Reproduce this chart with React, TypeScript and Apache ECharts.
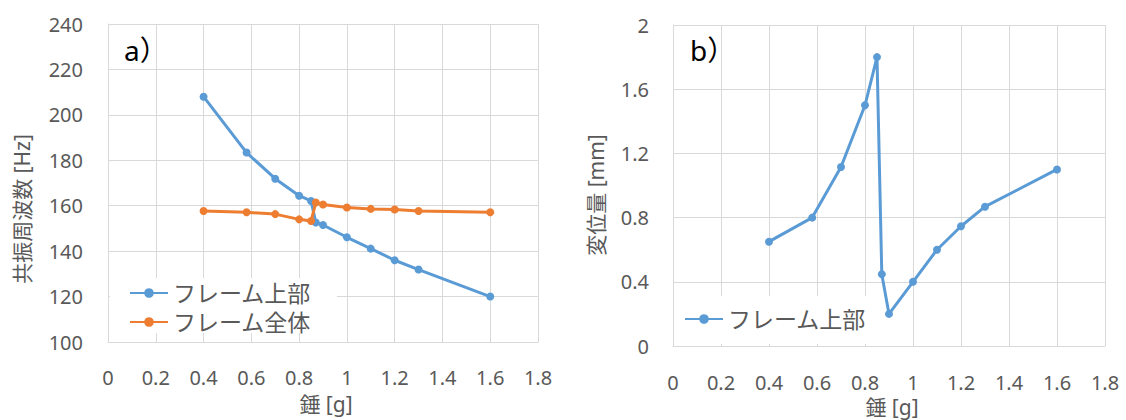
import React, { useEffect, useRef } from "react";
import * as echarts from "echarts";

// ---- data ----
const massG = [0.4, 0.58, 0.7, 0.8, 0.85, 0.87, 0.9, 1.0, 1.1, 1.2, 1.3, 1.6];
const freqFrameTop = [208, 183.4, 171.9, 164.4, 162.1, 152.6, 151.5, 146.1, 141.1, 136, 131.9, 120];
const freqFrameWhole = [157.7, 157.1, 156.3, 154, 153.3, 161.4, 160.5, 159.2, 158.6, 158.3, 157.7, 157.1];
const dispFrameTop = [0.65, 0.8, 1.115, 1.5, 1.8, 0.447, 0.2, 0.4, 0.6, 0.746, 0.868, 1.1];

const seriesNames = ["フレーム上部", "フレーム全体"];
const panelLabels = ["a）", "b）"];
const xTitle = "錘 [g]";
const yTitleA = "共振周波数 [Hz]";
const yTitleB = "変位量 [mm]";

const BLUE = "#5B9BD5";
const ORANGE = "#ED7D31";
const GRID = "#D9D9D9";
const TXT = "#595959";
const FONT = "'Noto Sans', 'Noto Sans CJK JP', sans-serif";

const pairs = (xs: number[], ys: number[]) => xs.map((x, i) => [x, ys[i]]);
const fmt1 = (v: number) => String(+v.toFixed(1));

export default function App() {
  const ref = useRef<HTMLDivElement>(null);
  useEffect(() => {
    if (!ref.current) return;
    const chart = echarts.init(ref.current, undefined, { renderer: "svg" });
    const xAxisBase = {
      type: "value" as const,
      min: 0,
      max: 1.8,
      interval: 0.2,
      axisLine: { show: true, lineStyle: { color: GRID, width: 1 } },
      axisTick: { show: false },
      splitLine: { show: true, lineStyle: { color: GRID, width: 1 } },
      axisLabel: { color: TXT, fontSize: 20, fontFamily: FONT, margin: 25, formatter: fmt1 },
    };
    const yAxisBase = {
      type: "value" as const,
      axisLine: { show: true, lineStyle: { color: GRID, width: 1 } },
      axisTick: { show: false },
      splitLine: { show: true, lineStyle: { color: GRID, width: 1 } },
    };
    const lineSeries = (name: string, color: string, data: number[][], xi: number, yi: number) => ({
      type: "line" as const,
      name,
      xAxisIndex: xi,
      yAxisIndex: yi,
      data,
      symbol: "circle",
      symbolSize: 8,
      showSymbol: true,
      lineStyle: { color, width: 3 },
      itemStyle: { color },
      z: 3,
    });
    const textStyle = { fill: TXT, font: `20px ${FONT}` };
    chart.setOption({
      animation: false,
      backgroundColor: "#fff",
      grid: [
        { left: 108, top: 24, width: 430, height: 318 },
        { left: 673, top: 25, width: 432, height: 321 },
      ],
      xAxis: [
        { ...xAxisBase, gridIndex: 0 },
        { ...xAxisBase, gridIndex: 1, axisLabel: { ...xAxisBase.axisLabel, margin: 26 } },
      ],
      yAxis: [
        {
          ...yAxisBase,
          gridIndex: 0,
          min: 100,
          max: 240,
          interval: 20,
          axisLabel: { color: TXT, fontSize: 20, fontFamily: FONT, margin: 25 },
        },
        {
          ...yAxisBase,
          gridIndex: 1,
          min: 0,
          max: 2,
          interval: 0.4,
          axisLabel: { color: TXT, fontSize: 20, fontFamily: FONT, margin: 24, formatter: fmt1 },
        },
      ],
      legend: [
        {
          orient: "vertical",
          left: 129,
          top: 281,
          padding: 0,
          itemGap: 5,
          itemWidth: 38,
          itemHeight: 12,
          data: [seriesNames[0], seriesNames[1]],
          textStyle: { color: TXT, fontSize: 23, lineHeight: 24, fontFamily: FONT },
          z: 6,
        },
        {
          orient: "vertical",
          left: 684,
          top: 307,
          padding: 0,
          itemWidth: 38,
          itemHeight: 12,
          data: [{ name: seriesNames[0] + " " }],
          textStyle: { color: TXT, fontSize: 23, lineHeight: 24, fontFamily: FONT },
          formatter: (n: string) => n.trim(),
          z: 6,
        },
      ],
      graphic: [
        { type: "rect", z: 1, shape: { x: 110, y: 278, width: 227, height: 55 }, style: { fill: "#fff" } },
        { type: "rect", z: 1, shape: { x: 675, y: 296, width: 231, height: 48 }, style: { fill: "#fff" } },
        { type: "text", z: 6, x: 124, y: 50, style: { text: panelLabels[0], fill: "#000", font: `28px ${FONT}`, align: "left", verticalAlign: "middle" } },
        { type: "text", z: 6, x: 690, y: 50, style: { text: panelLabels[1], fill: "#000", font: `28px ${FONT}`, align: "left", verticalAlign: "middle" } },
        { type: "text", z: 6, x: 22, y: 209, rotation: Math.PI / 2, style: { ...textStyle, text: yTitleA, font: `21px ${FONT}`, align: "center", verticalAlign: "middle" } },
        { type: "text", z: 6, x: 596, y: 195, rotation: Math.PI / 2, style: { ...textStyle, text: yTitleB, font: `21px ${FONT}`, align: "center", verticalAlign: "middle" } },
        { type: "text", z: 6, x: 326, y: 404, style: { ...textStyle, text: xTitle, font: `21px ${FONT}`, align: "center", verticalAlign: "middle" } },
        { type: "text", z: 6, x: 892, y: 407, style: { ...textStyle, text: xTitle, font: `21px ${FONT}`, align: "center", verticalAlign: "middle" } },
      ],
      series: [
        lineSeries(seriesNames[0], BLUE, pairs(massG, freqFrameTop), 0, 0),
        lineSeries(seriesNames[1], ORANGE, pairs(massG, freqFrameWhole), 0, 0),
        lineSeries(seriesNames[0] + " ", BLUE, pairs(massG, dispFrameTop), 1, 1),
      ],
    });
    return () => chart.dispose();
  }, []);
  return (
    <div
      ref={ref}
      style={{ position: "absolute", left: 0, top: 0, width: 1126, height: 420 }}
    />
  );
}
